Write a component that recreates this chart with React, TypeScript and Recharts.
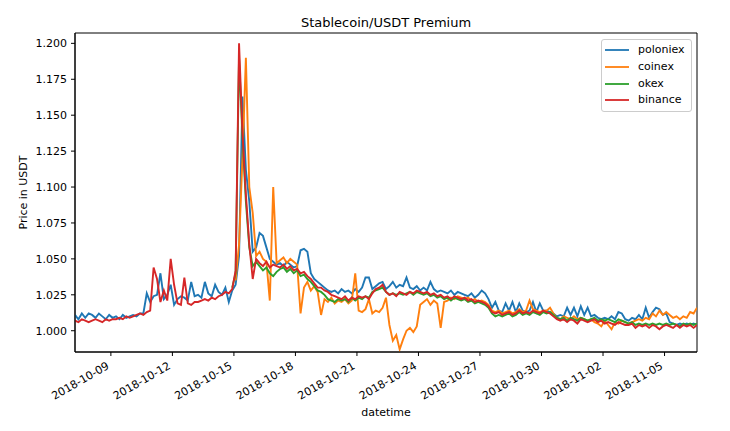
import React from 'react';
import { LineChart, Line, XAxis, YAxis, Legend, ReferenceArea } from 'recharts';

// Sampling: one reading every 4 hours, starting 2018-10-07 06:00 UTC
const START_TIME = Date.UTC(2018, 9, 7, 6, 0);
const STEP_MS = 4 * 3600 * 1000;

const SERIES_NAMES = ['poloniex', 'coinex', 'okex', 'binance'];
const SERIES_COLORS = ['#1f77b4', '#ff7f0e', '#2ca02c', '#d62728'];

const POLONIEX = [
  1.011, 1.008, 1.012, 1.009, 1.012, 1.011,
  1.009, 1.012, 1.010, 1.008, 1.011, 1.009,
  1.010, 1.008, 1.011, 1.009, 1.010, 1.011,
  1.010, 1.012, 1.012, 1.026, 1.020, 1.024,
  1.025, 1.040, 1.022, 1.025, 1.032, 1.018,
  1.022, 1.024, 1.023, 1.021, 1.034, 1.024,
  1.025, 1.023, 1.034, 1.026, 1.024, 1.032,
  1.027, 1.025, 1.030, 1.020, 1.028, 1.032,
  1.052, 1.163, 1.112, 1.090, 1.055, 1.058,
  1.068, 1.066, 1.058, 1.050, 1.048, 1.046,
  1.047, 1.045, 1.048, 1.046, 1.044, 1.045,
  1.056, 1.057, 1.055, 1.040, 1.036, 1.034,
  1.032, 1.030, 1.028, 1.027, 1.028, 1.026,
  1.029, 1.027, 1.028, 1.026, 1.029, 1.027,
  1.030, 1.037, 1.037, 1.029, 1.031, 1.033,
  1.034, 1.029, 1.031, 1.034, 1.030, 1.032,
  1.031, 1.037, 1.030, 1.029, 1.031, 1.028,
  1.030, 1.028, 1.034, 1.029, 1.027, 1.028,
  1.027, 1.026, 1.028, 1.025, 1.027, 1.026,
  1.025, 1.024, 1.026, 1.023, 1.025, 1.028,
  1.026, 1.022, 1.016, 1.020, 1.014, 1.013,
  1.019, 1.014, 1.020, 1.013, 1.019, 1.014,
  1.013, 1.014, 1.020, 1.013, 1.019, 1.014,
  1.014, 1.013, 1.012, 1.010, 1.011, 1.010,
  1.016, 1.011, 1.016, 1.010, 1.017, 1.011,
  1.016, 1.010, 1.011, 1.009, 1.008, 1.009,
  1.008, 1.010, 1.008, 1.013, 1.012, 1.008,
  1.007, 1.009, 1.008, 1.011, 1.008, 1.016,
  1.009, 1.013, 1.016, 1.015, 1.011, 1.012,
  1.006, 1.005, 1.004, 1.005, 1.004, 1.005,
  1.004, 1.005, 1.004,
];

// coinex readings begin at sample 47
const COINEX_FIRST = 47;
const COINEX = [
  1.035,
  1.060, 1.120, 1.190, 1.100, 1.082, 1.052,
  1.055, 1.050, 1.048, 1.021, 1.100, 1.047,
  1.049, 1.051, 1.047, 1.050, 1.048, 1.046,
  1.012, 1.030, 1.034, 1.028, 1.031, 1.027,
  1.011, 1.022, 1.020, 1.023, 1.019, 1.021,
  1.020, 1.022, 1.019, 1.021, 1.040, 1.014,
  1.013, 1.015, 1.022, 1.012, 1.014, 1.013,
  1.016, 1.023, 1.004, 0.993, 0.997, 0.987,
  0.994, 1.000, 1.002, 0.999, 1.003, 1.018,
  1.020, 1.022, 1.018, 1.021, 1.019, 1.002,
  1.020, 1.021, 1.023, 1.022, 1.024, 1.023,
  1.022, 1.023, 1.021, 1.022, 1.020, 1.021,
  1.020, 1.018, 1.014, 1.013, 1.014, 1.012,
  1.013, 1.014, 1.012, 1.013, 1.015, 1.013,
  1.014, 1.021, 1.015, 1.014, 1.013, 1.014,
  1.014, 1.016, 1.012, 1.009, 1.008, 1.010,
  1.009, 1.008, 1.010, 1.008, 1.009, 1.008,
  1.007, 1.008, 1.006, 1.005, 1.003, 1.007,
  1.004, 1.001, 1.006, 1.005, 1.007, 1.006,
  1.005, 1.006, 1.007, 1.008, 1.007, 1.009,
  1.008, 1.012, 1.010, 1.014, 1.011, 1.013,
  1.011, 1.009, 1.010, 1.008, 1.010, 1.009,
  1.013, 1.012, 1.016,
];

// okex readings begin at sample 46
const OKEX_FIRST = 46;
const OKEX = [
  1.030, 1.040,
  1.190, 1.135, 1.090, 1.058, 1.045, 1.048,
  1.045, 1.042, 1.044, 1.040, 1.038, 1.041,
  1.043, 1.044, 1.041, 1.043, 1.040, 1.042,
  1.038, 1.039, 1.036, 1.034, 1.031, 1.028,
  1.027, 1.025, 1.022, 1.021, 1.020, 1.022,
  1.021, 1.022, 1.020, 1.023, 1.021, 1.023,
  1.022, 1.024, 1.023, 1.027, 1.028, 1.029,
  1.030, 1.027, 1.025, 1.026, 1.025, 1.026,
  1.025, 1.026, 1.027, 1.025, 1.027, 1.026,
  1.025, 1.026, 1.024, 1.025, 1.023, 1.024,
  1.022, 1.023, 1.021, 1.023, 1.022, 1.021,
  1.022, 1.020, 1.021, 1.019, 1.020, 1.019,
  1.018, 1.016, 1.012, 1.010, 1.011, 1.010,
  1.011, 1.012, 1.010, 1.011, 1.013, 1.011,
  1.012, 1.011, 1.013, 1.012, 1.011, 1.013,
  1.012, 1.013, 1.011, 1.009, 1.008, 1.009,
  1.007, 1.009, 1.008, 1.007, 1.009, 1.008,
  1.007, 1.008, 1.009, 1.007, 1.008, 1.007,
  1.008, 1.007, 1.006, 1.008, 1.007, 1.006,
  1.005, 1.006, 1.004, 1.005, 1.004, 1.005,
  1.004, 1.005, 1.004, 1.005, 1.004, 1.005,
  1.004, 1.005, 1.004, 1.003, 1.005, 1.004,
  1.005, 1.004, 1.005,
];

const BINANCE = [
  1.007, 1.006, 1.008, 1.007, 1.006, 1.007,
  1.008, 1.007, 1.006, 1.008, 1.007, 1.008,
  1.008, 1.009, 1.008, 1.010, 1.009, 1.010,
  1.011, 1.012, 1.011, 1.013, 1.014, 1.044,
  1.036, 1.020, 1.028, 1.021, 1.050, 1.032,
  1.019, 1.018, 1.037, 1.019, 1.018, 1.020,
  1.020, 1.021, 1.022, 1.021, 1.023, 1.022,
  1.024, 1.025, 1.027, 1.026, 1.029, 1.042,
  1.200, 1.138, 1.095, 1.060, 1.036, 1.050,
  1.047, 1.045, 1.048, 1.044, 1.046, 1.045,
  1.044, 1.046, 1.043, 1.045, 1.042, 1.043,
  1.040, 1.041, 1.038, 1.036, 1.033, 1.030,
  1.030, 1.028, 1.027, 1.025, 1.024, 1.023,
  1.022, 1.024, 1.021, 1.023, 1.022, 1.024,
  1.023, 1.024, 1.022, 1.026, 1.029, 1.030,
  1.032, 1.027, 1.025, 1.026, 1.024, 1.027,
  1.026, 1.025, 1.027, 1.026, 1.028, 1.027,
  1.026, 1.027, 1.025, 1.026, 1.024, 1.025,
  1.023, 1.024, 1.022, 1.024, 1.023, 1.022,
  1.023, 1.021, 1.022, 1.020, 1.021, 1.020,
  1.019, 1.017, 1.013, 1.012, 1.013, 1.011,
  1.012, 1.013, 1.011, 1.012, 1.014, 1.012,
  1.013, 1.012, 1.014, 1.013, 1.012, 1.014,
  1.013, 1.012, 1.010, 1.008, 1.007, 1.008,
  1.006, 1.008, 1.007, 1.005, 1.008, 1.007,
  1.006, 1.007, 1.008, 1.006, 1.007, 1.005,
  1.006, 1.005, 1.004, 1.006, 1.005, 1.004,
  1.004, 1.005, 1.002, 1.004, 1.003, 1.004,
  1.002, 1.004, 1.003, 1.001, 1.003, 1.004,
  1.003, 1.002, 1.004, 1.002, 1.004, 1.003,
  1.004, 1.002, 1.004,
];

const X_TICK_LABELS = [
  '2018-10-09', '2018-10-12', '2018-10-15', '2018-10-18', '2018-10-21',
  '2018-10-24', '2018-10-27', '2018-10-30', '2018-11-02', '2018-11-05',
];
const Y_TICKS = [1.0, 1.025, 1.05, 1.075, 1.1, 1.125, 1.15, 1.175, 1.2];
const Y_DOMAIN = [0.9852, 1.2072];

const FONT = '"DejaVu Sans", sans-serif';

const rows = BINANCE.map((b, i) => ({
  t: START_TIME + i * STEP_MS,
  poloniex: POLONIEX[i],
  coinex: i >= COINEX_FIRST ? COINEX[i - COINEX_FIRST] : null,
  okex: i >= OKEX_FIRST ? OKEX[i - OKEX_FIRST] : null,
  binance: b,
}));

const X_TICKS = X_TICK_LABELS.map((s) => Date.parse(s + 'T00:00:00Z'));
const X_DOMAIN = [rows[0].t, rows[rows.length - 1].t];

const fmtDate = (v: number) => {
  const d = new Date(v);
  const mm = String(d.getUTCMonth() + 1).padStart(2, '0');
  const dd = String(d.getUTCDate()).padStart(2, '0');
  return `${d.getUTCFullYear()}-${mm}-${dd}`;
};

const XTick = (props: any) => {
  const { x, y, payload } = props;
  const ax = x - 1;
  const ay = y + 8;
  return (
    <text
      x={ax}
      y={ay}
      transform={`rotate(-30, ${ax}, ${ay})`}
      textAnchor="end"
      fontFamily={FONT}
      fontSize={11}
      fill="#000"
    >
      {fmtDate(payload.value)}
    </text>
  );
};

const LegendBox = () => (
  <div
    style={{
      boxSizing: 'border-box',
      width: 91,
      border: '1px solid #cccccc',
      borderRadius: 3,
      background: 'rgba(255,255,255,0.8)',
      padding: '2px 3px',
      fontFamily: FONT,
      fontSize: 11,
      color: '#000',
    }}
  >
    {SERIES_NAMES.map((n, k) => (
      <div key={n} style={{ display: 'flex', alignItems: 'center', height: 16.7 }}>
        <svg width={24} height={4} style={{ marginRight: 9, display: 'block' }}>
          <line x1={0} y1={2} x2={24} y2={2} stroke={SERIES_COLORS[k]} strokeWidth={1.8} />
        </svg>
        <span style={{ lineHeight: '16px' }}>{n}</span>
      </div>
    ))}
  </div>
);

export default function App() {
  return (
    <div style={{ position: 'relative', width: 730, height: 431, background: '#fff' }}>
      <style>{`body{margin:0;background:#fff}`}</style>
      <LineChart
        width={730}
        height={431}
        data={rows}
        margin={{ top: 33, right: 33, bottom: 0, left: 0 }}
      >
        <XAxis
          dataKey="t"
          type="number"
          domain={X_DOMAIN}
          ticks={X_TICKS}
          allowDataOverflow
          height={79}
          tickSize={4}
          tickMargin={4}
          tick={<XTick />}
          stroke="#000"
          tickLine={{ stroke: '#000' }}
          axisLine={{ stroke: '#000', strokeWidth: 1 }}
          interval={0}
        />
        <YAxis
          type="number"
          domain={Y_DOMAIN}
          ticks={Y_TICKS}
          allowDataOverflow
          width={75}
          tickSize={4}
          tickMargin={4}
          interval={0}
          tickFormatter={(v: number) => v.toFixed(3)}
          tick={{ fontFamily: FONT, fontSize: 11, fill: '#000' }}
          stroke="#000"
          tickLine={{ stroke: '#000' }}
          axisLine={{ stroke: '#000', strokeWidth: 1 }}
        />
        {SERIES_NAMES.map((n, k) => (
          <Line
            key={n}
            dataKey={n}
            name={n}
            type="linear"
            stroke={SERIES_COLORS[k]}
            strokeWidth={1.9}
            dot={false}
            activeDot={false}
            connectNulls={false}
            isAnimationActive={false}
          />
        ))}
        <ReferenceArea
          x1={X_DOMAIN[0]}
          x2={X_DOMAIN[1]}
          y1={Y_DOMAIN[0]}
          y2={Y_DOMAIN[1]}
          fill="none"
          fillOpacity={0}
          stroke="#000"
          strokeWidth={1}
          ifOverflow="visible"
        />
        <Legend
          layout="vertical"
          align="center"
          verticalAlign="middle"
          content={<LegendBox />}
          wrapperStyle={{ position: 'absolute', left: 601, top: 39, width: 91, height: 71 }}
        />
      </LineChart>
      <svg
        width={730}
        height={431}
        style={{ position: 'absolute', left: 0, top: 0, pointerEvents: 'none' }}
      >
        <text x={386} y={26.5} textAnchor="middle" fontFamily={FONT} fontSize={13} fill="#000">
          Stablecoin/USDT Premium
        </text>
        <text x={386} y={416} textAnchor="middle" fontFamily={FONT} fontSize={11} fill="#000">
          datetime
        </text>
        <text
          x={26.5}
          y={192.5}
          transform="rotate(-90, 26.5, 192.5)"
          textAnchor="middle"
          fontFamily={FONT}
          fontSize={11}
          fill="#000"
        >
          Price in USDT
        </text>
      </svg>
    </div>
  );
}
